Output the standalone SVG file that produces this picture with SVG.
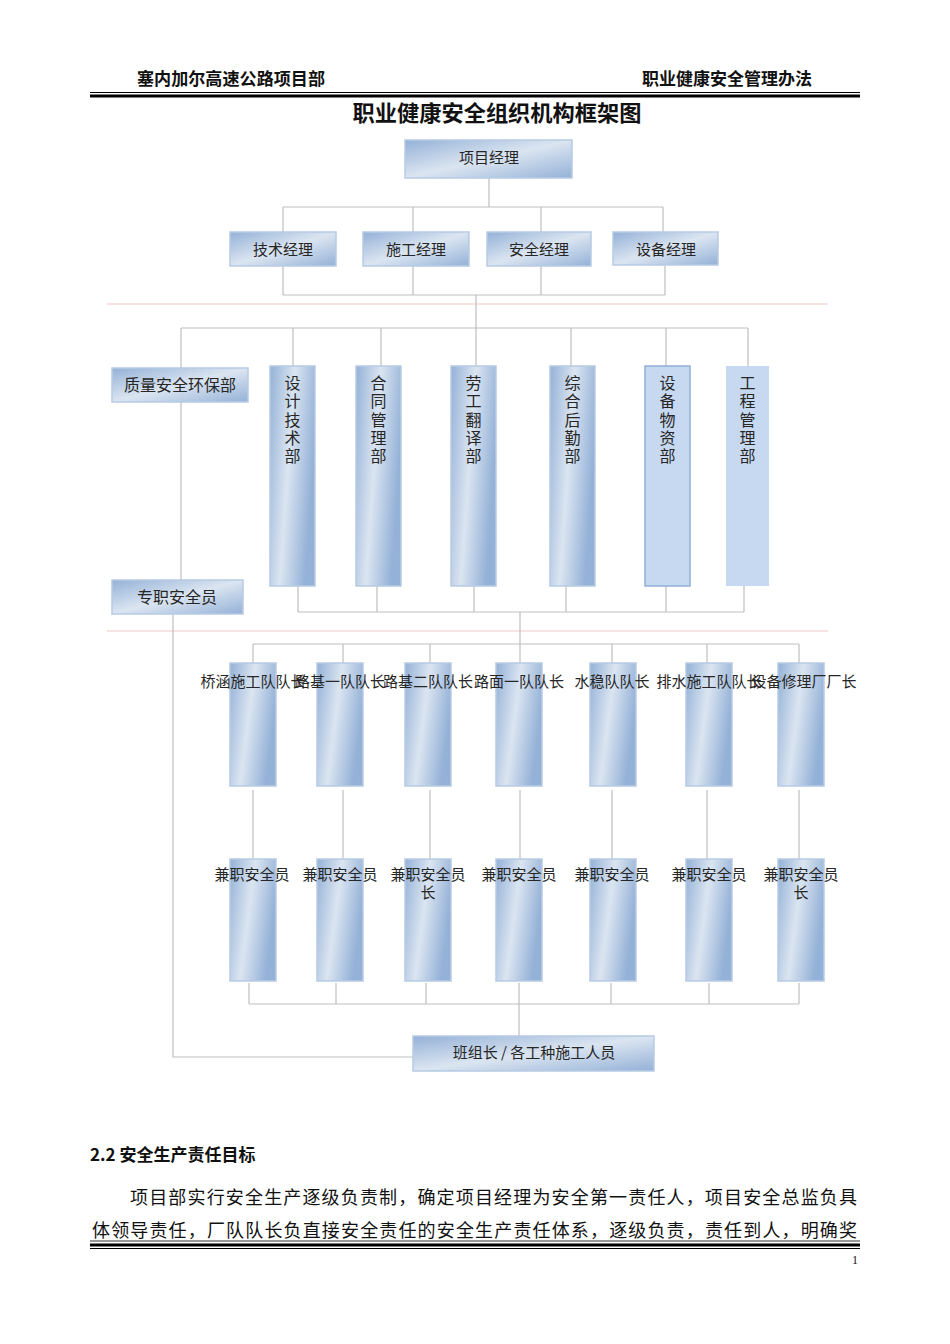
<svg xmlns="http://www.w3.org/2000/svg" width="950" height="1344" viewBox="0 0 950 1344">
<defs>
<linearGradient id="g" x1="0" y1="0" x2="1" y2="1">
<stop offset="0" stop-color="#94b1d7"/>
<stop offset="0.5" stop-color="#dbe5f1"/>
<stop offset="1" stop-color="#94b1d7"/>
</linearGradient>
<linearGradient id="gt" x1="0" y1="0" x2="1" y2="0.35">
<stop offset="0" stop-color="#94b1d7"/>
<stop offset="0.5" stop-color="#dbe5f1"/>
<stop offset="1" stop-color="#94b1d7"/>
</linearGradient>
<style>
.bx{fill:url(#g);stroke:#b7cbe4;stroke-width:1.5}
.bt{fill:url(#gt);stroke:#b7cbe4;stroke-width:1.5}
.t{font-family:"Noto Sans CJK SC","Liberation Serif",serif;font-size:15px;fill:#262626;text-anchor:middle}
.v{font-family:"Noto Sans CJK SC","Liberation Serif",serif;font-size:16px;fill:#262626;text-anchor:middle}
.vv{font-family:"Noto Sans CJK SC","Liberation Serif",serif;font-size:16px;fill:#262626;writing-mode:vertical-rl;letter-spacing:2.3px}
.h{font-family:"Noto Sans CJK SC","Liberation Sans",sans-serif;font-weight:bold;fill:#111}
.p{font-family:"Noto Sans CJK SC","Liberation Serif",serif;font-size:18px;fill:#111}
.c{fill:none;stroke:#bfbfbf;stroke-width:1.2}
.pk{fill:none;stroke:#f2c8c8;stroke-width:1.2}
</style>
</defs>
<rect width="950" height="1344" fill="#fff"/>
<g id="header">
<text class="h" x="137" y="85" font-size="17" textLength="188" lengthAdjust="spacingAndGlyphs">塞内加尔高速公路项目部</text>
<text class="h" x="642" y="85" font-size="17" textLength="170" lengthAdjust="spacingAndGlyphs">职业健康安全管理办法</text>
<line x1="90" y1="92.5" x2="860" y2="92.5" stroke="#000" stroke-width="1.2"/>
<line x1="90" y1="96" x2="860" y2="96" stroke="#000" stroke-width="3"/>
<text class="h" x="497" y="121" font-size="22" text-anchor="middle" textLength="289" lengthAdjust="spacingAndGlyphs">职业健康安全组织机构框架图</text>
</g>
<g id="connectors">
<path class="pk" d="M107 304H828M107 631H828"/>
<path class="c" d="M489 178V207M283 207H663M283 207V232M413 207V232M541 207V232M663 207V232"/>
<path class="c" d="M283 266V295M413 266V295M541 266V295M665 266V295M283 295H665M476 295V328M181 328H748M181 328V368M293 328V366M381 328V366M476 328V366M571 328V366M666 328V366M748 328V366"/>
<path class="c" d="M181 402V580M173 614V1057H413"/>
<path class="c" d="M298 586V612M377 586V612M474 586V612M566 586V612M666 586V612M744 586V612M298 612H744M520 612V644M253 644H799M253 644V663M343 644V663M430 644V663M520 644V663M612 644V663M707 644V663M799 644V663"/>
<path class="c" d="M253 790V859M343 790V859M430 790V859M520 790V859M612 790V859M707 790V859M799 790V859"/>
<path class="c" d="M249 983V1004M336 983V1004M426 983V1004M519 983V1004M611 983V1004M709 983V1004M799 983V1004M249 1004H799M519 1004V1036"/>
</g>
<g id="n-pm"><rect class="bx" x="405" y="140" width="167" height="38"/><text class="t" x="489" y="163">项目经理</text></g>
<g id="n-tech"><rect class="bx" x="230" y="232" width="106" height="34"/><text class="t" x="283" y="255">技术经理</text></g>
<g id="n-cons"><rect class="bx" x="363" y="232" width="106" height="34"/><text class="t" x="416" y="255">施工经理</text></g>
<g id="n-safe"><rect class="bx" x="487" y="232" width="104" height="34"/><text class="t" x="539" y="255">安全经理</text></g>
<g id="n-equip"><rect class="bx" x="613" y="232" width="105" height="33"/><text class="t" x="666" y="255">设备经理</text></g>
<g id="n-qse"><rect class="bx" x="112" y="368" width="136" height="34"/><text class="v" x="180" y="391">质量安全环保部</text></g>
<g id="n-full"><rect class="bx" x="112" y="580" width="131" height="34"/><text class="v" x="177" y="603">专职安全员</text></g>
<g id="n-d1"><rect class="bt" x="270" y="366" width="45" height="220"/><text class="vv" x="292.5" y="375">设计技术部</text></g>
<g id="n-d2"><rect class="bt" x="356" y="366" width="45" height="220"/><text class="vv" x="378.5" y="375">合同管理部</text></g>
<g id="n-d3"><rect class="bt" x="451" y="366" width="45" height="220"/><text class="vv" x="473.5" y="375">劳工翻译部</text></g>
<g id="n-d4"><rect class="bt" x="550" y="366" width="45" height="220"/><text class="vv" x="572.5" y="375">综合后勤部</text></g>
<g id="n-d5"><rect x="645" y="366" width="45" height="220" fill="#c6d9f0" stroke="#93afd6" stroke-width="1.5"/><text class="vv" x="667.5" y="375">设备物资部</text></g>
<g id="n-d6"><rect x="726" y="366" width="43" height="220" fill="#c6d9f0"/><text class="vv" x="747.5" y="375">工程管理部</text></g>
<g id="n-t1"><rect class="bt" x="230" y="663" width="46" height="123"/></g>
<g id="n-t2"><rect class="bt" x="317" y="663" width="46" height="123"/></g>
<g id="n-t3"><rect class="bt" x="405" y="663" width="46" height="123"/></g>
<g id="n-t4"><rect class="bt" x="496" y="663" width="46" height="123"/></g>
<g id="n-t5"><rect class="bt" x="590" y="663" width="46" height="123"/></g>
<g id="n-t6"><rect class="bt" x="686" y="663" width="46" height="123"/></g>
<g id="n-t7"><rect class="bt" x="778" y="663" width="46" height="123"/></g>
<g id="team-labels">
<text class="t" x="253" y="687" font-size="14.5">桥涵施工队队长</text>
<text class="t" x="340" y="687" font-size="14.5">路基一队队长</text>
<text class="t" x="428" y="687" font-size="14.5">路基二队队长</text>
<text class="t" x="519" y="687" font-size="14.5">路面一队队长</text>
<text class="t" x="612" y="687" font-size="14.5">水稳队队长</text>
<text class="t" x="709" y="687" font-size="14.5">排水施工队队长</text>
<text class="t" x="804" y="687" font-size="14.5">设备修理厂厂长</text>
</g>
<g id="n-s1"><rect class="bt" x="230" y="859" width="46" height="122"/><text class="t" x="252" y="880">兼职安全员</text></g>
<g id="n-s2"><rect class="bt" x="317" y="859" width="46" height="122"/><text class="t" x="340" y="880">兼职安全员</text></g>
<g id="n-s3"><rect class="bt" x="405" y="859" width="46" height="122"/><text class="t" x="428" y="880">兼职安全员</text><text class="t" x="428" y="898">长</text></g>
<g id="n-s4"><rect class="bt" x="496" y="859" width="46" height="122"/><text class="t" x="519" y="880">兼职安全员</text></g>
<g id="n-s5"><rect class="bt" x="590" y="859" width="46" height="122"/><text class="t" x="612" y="880">兼职安全员</text></g>
<g id="n-s6"><rect class="bt" x="686" y="859" width="46" height="122"/><text class="t" x="709" y="880">兼职安全员</text></g>
<g id="n-s7"><rect class="bt" x="778" y="859" width="46" height="122"/><text class="t" x="801" y="880">兼职安全员</text><text class="t" x="801" y="898">长</text></g>
<g id="n-crew"><rect class="bx" x="413" y="1036" width="241" height="35"/><text class="t" x="534" y="1058">班组长 / 各工种施工人员</text></g>
<g id="body">
<text class="h" x="90" y="1161" font-size="17">2.2 安全生产责任目标</text>
<text class="p" x="130" y="1204" textLength="727" lengthAdjust="spacing">项目部实行安全生产逐级负责制，确定项目经理为安全第一责任人，项目安全总监负具</text>
<text class="p" x="92" y="1237" textLength="765" lengthAdjust="spacing">体领导责任，厂队队长负直接安全责任的安全生产责任体系，逐级负责，责任到人，明确奖</text>
<line x1="90" y1="1241" x2="860" y2="1241" stroke="#000" stroke-width="0.8"/>
<line x1="90" y1="1245" x2="860" y2="1245" stroke="#000" stroke-width="3"/>
<line x1="90" y1="1248.5" x2="860" y2="1248.5" stroke="#000" stroke-width="1.2"/>
<text x="855" y="1264" font-family="Liberation Serif, serif" font-size="12" fill="#111" text-anchor="middle">1</text>
</g>
</svg>
